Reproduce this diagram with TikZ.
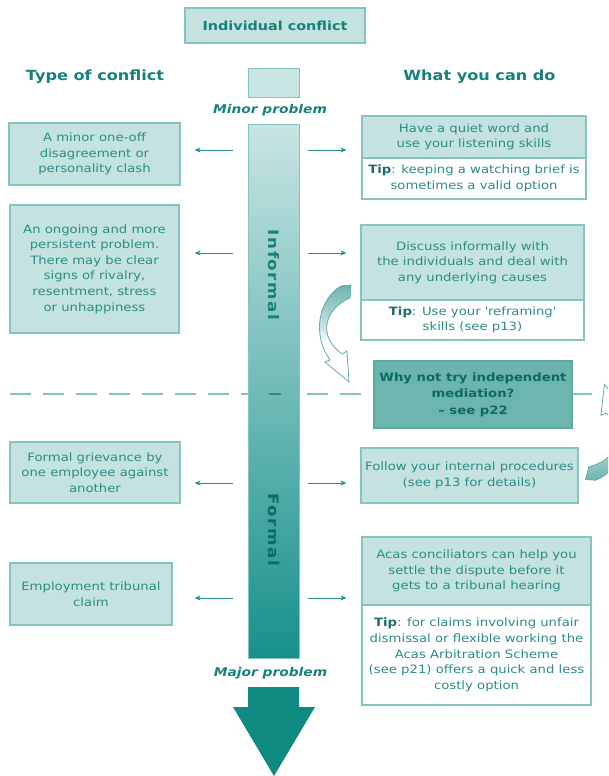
\documentclass[tikz,border=0pt]{standalone}
\usepackage{fontspec}
\setmainfont{DejaVu Sans}[FakeStretch=1.15]
\usetikzlibrary{arrows.meta,calc}
\definecolor{tealtext}{HTML}{2B8C86}
\definecolor{tealhead}{HTML}{17807A}
\definecolor{tipdark}{HTML}{1B6E69}
\definecolor{boxfill}{HTML}{C3E2E0}
\definecolor{boxdraw}{HTML}{86C4BF}
\definecolor{medfill}{HTML}{6CB4AE}
\definecolor{meddraw}{HTML}{5BA9A3}
\definecolor{medtext}{HTML}{0C6A64}
\definecolor{barlight}{HTML}{C8E5E3}
\definecolor{barmid}{HTML}{80BFBA}
\definecolor{bardark}{HTML}{17908A}
\definecolor{arrowteal}{HTML}{0F8A80}
\definecolor{curvedraw}{HTML}{5FAEA8}
\pgfdeclareverticalshading{curvefill}{100bp}{color(0bp)=(white); color(46bp)=(white); color(54bp)=(boxfill); color(75bp)=(medfill); color(100bp)=(medfill)}
\pgfdeclareverticalshading{curvefillrev}{100bp}{color(0bp)=(medfill); color(25bp)=(medfill); color(46bp)=(boxfill); color(54bp)=(white); color(100bp)=(white)}
\begin{document}
\begin{tikzpicture}[x=1pt,y=-1pt,
  body/.style={font=\fontsize{11.5}{15.6}\selectfont, text=tealtext, align=center, inner sep=0pt},
  lbox/.style={body, draw=boxdraw, fill=boxfill, line width=1.2pt},
  tbox/.style={body, draw=boxdraw, fill=white, line width=1.2pt},
  medbox/.style={body, font=\fontsize{11.5}{16.5}\selectfont\bfseries, text=medtext, draw=meddraw, fill=medfill, line width=1.2pt},
  titlebox/.style={draw=boxdraw, fill=boxfill, line width=1.4pt, inner sep=0pt, font=\fontsize{12.5}{15}\selectfont\bfseries, text=tealhead},
  heading/.style={inner sep=0pt, font=\fontsize{14}{16}\selectfont\bfseries, text=tealhead},
  problem/.style={inner sep=0pt, font=\fontsize{12}{14}\selectfont\bfseries\itshape, text=tealhead},
  vlabel/.style={inner sep=0pt, rotate=-90, font=\fontsize{14.5}{16}\selectfont\bfseries\addfontfeatures{LetterSpace=11}},
  bartopbox/.style={draw=boxdraw, fill=barlight, line width=1pt, inner sep=0pt},
  barmain/.style={draw=boxdraw, top color=barlight, middle color=barmid, bottom color=bardark, line width=1pt, inner sep=0pt},
  conn/.style={draw=tealtext, line width=0.8pt, -{Stealth[length=6pt,width=5pt]}},
  dashline/.style={draw=boxdraw, line width=1.4pt, dash pattern=on 21pt off 12pt},
  tickmark/.style={draw=tealtext, line width=1.5pt},
  curvy/.pic={\path[draw=curvedraw, line width=0.8pt, shading=#1]
     (6,-49) -- (16,-50) -- (15,-37) .. controls (-9,-27) and (-19,0) .. (7,19)
     -- (12,16) -- (14,47) -- (-10,27) -- (-5,25)
     .. controls (-23,0) and (-17,-35) .. (6,-49) -- cycle;}
]
\useasboundingbox (0,0) rectangle (608,776);
\clip (0,0) rectangle (608,776);

% dashed divider
\draw[dashline] (10,394) -- (608,394);

% title and headings
\node[titlebox, minimum width=180pt, minimum height=35pt] (title) at (275,25.5) {Individual conflict};
\node[heading] (hL) at (95,77) {Type of conflict};
\node[heading] (hR) at (479.5,77) {What you can do};

% central bar
\node[bartopbox, minimum width=51pt, minimum height=28pt] (bartop) at (273.5,83) {};
\node[problem] (minor) at (270,110) {Minor problem};
\node[barmain, minimum width=51pt, minimum height=534pt] (bar) at (273.5,391) {};
\draw[tickmark] (269,394) -- (281,394);
\draw[tickmark] (269,563) -- (281,563);
\node[vlabel, text=tealhead] (informal) at (274,275) {Informal};
\node[vlabel, text=medtext] (formal) at (274,530) {Formal};
\node[problem] (major) at (270.5,673) {Major problem};
\fill[arrowteal] (248,687) -- (299,687) -- (299,707) -- (315,707) -- (274,776) -- (233,707) -- (248,707) -- cycle;

% left boxes
\node[lbox, minimum width=171pt, minimum height=62pt] (L1) at (94.5,154) {A minor one-off\\disagreement or\\personality clash};
\node[lbox, minimum width=169pt, minimum height=128pt] (L2) at (94.5,269) {An ongoing and more\\persistent problem.\\There may be clear\\signs of rivalry,\\resentment, stress\\or unhappiness};
\node[lbox, minimum width=170pt, minimum height=61pt] (L3) at (95,472.5) {Formal grievance by\\one employee against\\another};
\node[lbox, minimum width=162pt, minimum height=62pt] (L4) at (91,594) {Employment tribunal\\claim};

% right boxes
\node[lbox, minimum width=224pt, minimum height=42pt] (R1) at (474,137) {Have a quiet word and\\use your listening skills};
\node[tbox, minimum width=224pt, minimum height=41pt] (R1t) at (474,178.5) {{\bfseries\color{tipdark}Tip}: keeping a watching brief is\\sometimes a valid option};
\node[lbox, minimum width=223pt, minimum height=75pt] (R2) at (472.5,262.5) {Discuss informally with\\the individuals and deal with\\any underlying causes};
\node[tbox, minimum width=223pt, minimum height=40pt] (R2t) at (472.5,320) {{\bfseries\color{tipdark}Tip}: Use your \textquotesingle reframing\textquotesingle\\skills (see p13)};
\node[medbox, minimum width=198pt, minimum height=67pt] (med) at (473,394.5) {Why not try independent\\mediation?\\\textendash{} see p22};
\node[lbox, minimum width=217pt, minimum height=55pt] (R3) at (469.5,475.5) {Follow your internal procedures\\(see p13 for details)};
\node[lbox, minimum width=229pt, minimum height=68pt] (R4) at (476.5,571) {Acas conciliators can help you\\settle the dispute before it\\gets to a tribunal hearing};
\node[tbox, minimum width=229pt, minimum height=100pt] (R4t) at (476.5,655) {{\bfseries\color{tipdark}Tip}: for claims involving unfair\\dismissal or flexible working the\\Acas Arbitration Scheme\\(see p21) offers a quick and less\\costly option};

% curved arrows towards mediation
\pic (cv1) at (335,335) {curvy=curvefill};
\pic[rotate=170] (cv2) at (610,433) {curvy=curvefillrev};

% connectors
\coordinate (r1) at (0,150);
\coordinate (r2) at (0,253);
\coordinate (r3) at (0,483);
\coordinate (r4) at (0,598);
\draw[conn, shorten <=15pt, shorten >=14pt] (bar.west |- r1) -- (L1.east |- r1);
\draw[conn, shorten <=8pt, shorten >=15pt] (bar.east |- r1) -- (R1.west |- r1);
\draw[conn, shorten <=15pt, shorten >=15pt] (bar.west |- r2) -- (L2.east |- r2);
\draw[conn, shorten <=8pt, shorten >=14pt] (bar.east |- r2) -- (R2.west |- r2);
\draw[conn, shorten <=15pt, shorten >=14pt] (bar.west |- r3) -- (L3.east |- r3);
\draw[conn, shorten <=8pt, shorten >=14pt] (bar.east |- r3) -- (R3.west |- r3);
\draw[conn, shorten <=15pt, shorten >=22pt] (bar.west |- r4) -- (L4.east |- r4);
\draw[conn, shorten <=8pt, shorten >=15pt] (bar.east |- r4) -- (R4.west |- r4);
\end{tikzpicture}
\end{document}
